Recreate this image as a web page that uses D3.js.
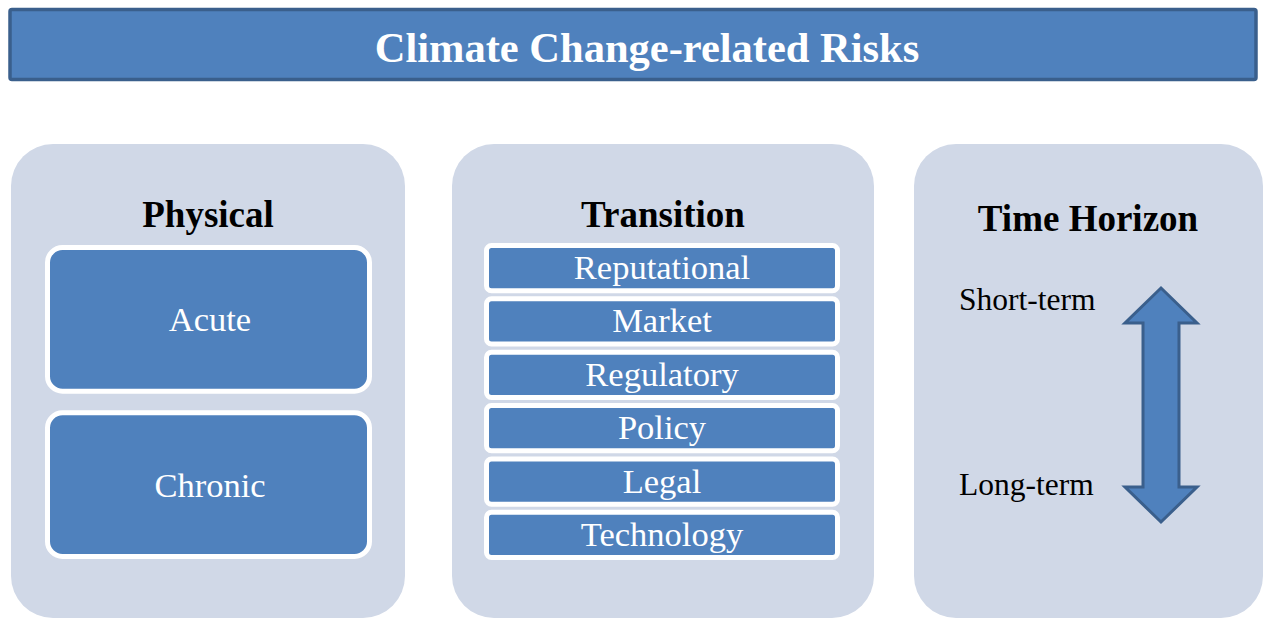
<!DOCTYPE html>
<html>
<head>
<meta charset="utf-8">
<script src="https://cdn.jsdelivr.net/npm/d3@7"></script>
<style>
  body { margin: 0; background: #fff; }
  text { font-family: "Liberation Serif", "Times New Roman", serif; }
</style>
</head>
<body>
<div id="chart"></div>
<script>
// Data
var title           =   'Climate Change-related Risks';
var panelTitles     =   [ 'Physical', 'Transition', 'Time Horizon' ];
var physicalRisks   =   [ 'Acute', 'Chronic' ];
var transitionRisks =   [ 'Reputational', 'Market', 'Regulatory', 'Policy', 'Legal', 'Technology' ];
var horizonLabels   =   [ 'Short-term', 'Long-term' ];

var chart_width     =   1264;
var chart_height    =   618;
var blue            =   '#4f81bd';
var dark_blue       =   '#3a5f8c';
var panel_fill      =   '#d0d8e7';

var svg = d3.select('#chart')
    .append('svg')
    .attr('width', chart_width)
    .attr('height', chart_height);

// title bar
svg.append('rect')
    .attr('x', 10).attr('y', 9.5)
    .attr('width', 1246).attr('height', 70)
    .attr('rx', 2)
    .attr('fill', blue)
    .attr('stroke', dark_blue)
    .attr('stroke-width', 3.5);

svg.append('text')
    .attr('x', 647).attr('y', 62)
    .attr('text-anchor', 'middle')
    .attr('fill', '#fff')
    .attr('font-size', 42.5)
    .attr('font-weight', 'bold')
    .text(title);

// panels
var panels = [
    { x: 11,  w: 394 },
    { x: 452, w: 422 },
    { x: 914, w: 349 }
];
var panel = svg.selectAll('g.panel')
    .data(panelTitles)
    .enter()
    .append('g')
    .attr('class', 'panel')
    .attr('transform', function(d, i){ return 'translate(' + panels[i].x + ',144)'; });

panel.append('rect')
    .attr('width', function(d, i){ return panels[i].w; })
    .attr('height', 474)
    .attr('rx', 42)
    .attr('fill', panel_fill);

panel.append('text')
    .attr('x', function(d, i){ return i == 2 ? 1088 - panels[i].x : panels[i].w / 2; })
    .attr('y', function(d, i){ return i == 2 ? 87 : 83; })
    .attr('text-anchor', 'middle')
    .attr('font-size', 37)
    .attr('font-weight', 'bold')
    .attr('fill', '#000')
    .text(function(d){ return d; });

// physical boxes
var yPhys = d3.scaleBand()
    .domain(physicalRisks)
    .range([ 245, 559 ])
    .paddingInner(0.1);

var phys = svg.selectAll('g.phys')
    .data(physicalRisks)
    .enter()
    .append('g')
    .attr('class', 'phys');

phys.append('rect')
    .attr('x', 47.5)
    .attr('y', function(d){ return yPhys(d) + 2.5; })
    .attr('width', 322)
    .attr('height', yPhys.bandwidth() - 5)
    .attr('rx', 15)
    .attr('fill', blue)
    .attr('stroke', '#fff')
    .attr('stroke-width', 5);

phys.append('text')
    .attr('x', 210)
    .attr('y', function(d){ return yPhys(d) + yPhys.bandwidth() / 2 + 12; })
    .attr('text-anchor', 'middle')
    .attr('fill', '#fff')
    .attr('font-size', 34.5)
    .text(function(d){ return d; });

// transition boxes
var yTrans = d3.scaleBand()
    .domain(transitionRisks)
    .range([ 243, 560 ])
    .paddingInner(0.06);

var trans = svg.selectAll('g.trans')
    .data(transitionRisks)
    .enter()
    .append('g')
    .attr('class', 'trans');

trans.append('rect')
    .attr('x', 486.5)
    .attr('y', function(d){ return yTrans(d) + 2.5; })
    .attr('width', 351)
    .attr('height', yTrans.bandwidth() - 5)
    .attr('rx', 5)
    .attr('fill', blue)
    .attr('stroke', '#fff')
    .attr('stroke-width', 5);

trans.append('text')
    .attr('x', 662)
    .attr('y', function(d){ return yTrans(d) + yTrans.bandwidth() / 2 + 11; })
    .attr('text-anchor', 'middle')
    .attr('fill', '#fff')
    .attr('font-size', 34.5)
    .text(function(d){ return d; });

// time horizon
var yTime = d3.scalePoint()
    .domain(horizonLabels)
    .range([ 310, 495 ]);

svg.selectAll('text.horizon')
    .data(horizonLabels)
    .enter()
    .append('text')
    .attr('class', 'horizon')
    .attr('x', 959)
    .attr('y', function(d){ return yTime(d); })
    .attr('fill', '#000')
    .attr('font-size', 31.5)
    .text(function(d){ return d; });

// double arrow
var ax = 1161, top_y = 288, bot_y = 522, head = 35, hw = 36, sw = 18;
var arrow = d3.path();
arrow.moveTo(ax, top_y);
arrow.lineTo(ax + hw, top_y + head);
arrow.lineTo(ax + sw, top_y + head);
arrow.lineTo(ax + sw, bot_y - head);
arrow.lineTo(ax + hw, bot_y - head);
arrow.lineTo(ax, bot_y);
arrow.lineTo(ax - hw, bot_y - head);
arrow.lineTo(ax - sw, bot_y - head);
arrow.lineTo(ax - sw, top_y + head);
arrow.lineTo(ax - hw, top_y + head);
arrow.closePath();

svg.append('path')
    .attr('d', arrow.toString())
    .attr('fill', blue)
    .attr('stroke', dark_blue)
    .attr('stroke-width', 3)
    .attr('stroke-linejoin', 'miter');
</script>
</body>
</html>
